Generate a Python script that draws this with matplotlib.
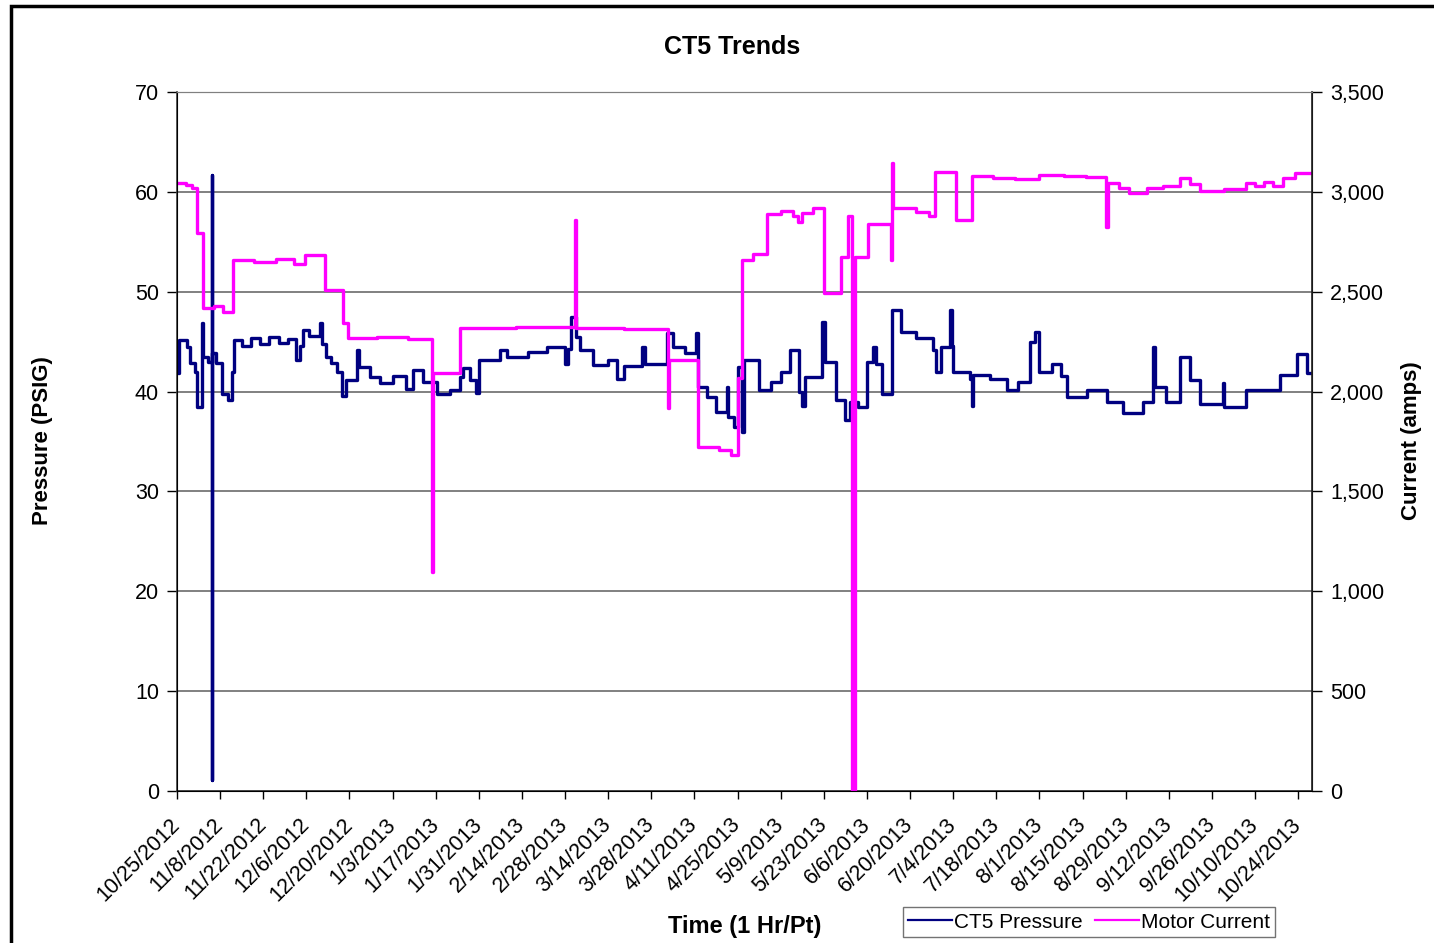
import numpy as np
import matplotlib
matplotlib.use("Agg")
import matplotlib.pyplot as plt
from matplotlib.patches import Rectangle
from matplotlib.ticker import FuncFormatter, MultipleLocator

plt.rcParams['font.family'] = ['Liberation Sans', 'DejaVu Sans']

# hourly logger trend, reduced to (day offset, value) step points from 10/25/2012
start = np.datetime64('2012-10-25T00:00')

press_day = [0, 0.6, 3.2, 4.2, 5.8, 6.5, 8.1, 8.4, 10, 11.3, 11.35, 11.4, 12.5, 14.6,
             16.5, 17.9, 18.5, 21, 24, 27, 30, 33, 36, 38.5, 40, 41, 43, 46.5, 47, 48.5,
             50, 52, 53.6, 55, 58.5, 59.2, 62.5, 66, 70, 74.5, 76.5, 80, 84.4, 88.5, 92,
             93, 95, 97, 98, 105, 107, 114, 120, 126, 127, 128, 129.5, 131, 135, 140,
             143, 145, 151, 152, 159, 161, 165, 168.5, 169, 172, 175, 178.5, 179, 181,
             182, 183.5, 184, 189, 193, 196, 199, 202, 203, 204, 209.5, 210.5, 214, 217,
             218.5, 221, 224, 226, 227, 229, 232, 235, 240, 245.5, 246.5, 248, 251,
             251.6, 252, 257.5, 258, 258.5, 264, 269.5, 273, 277, 278.5, 280, 284, 287,
             289, 295.5, 302, 307, 313.6, 317, 317.5, 321, 325.5, 329, 332, 339.5, 340,
             347, 358, 363.6, 367, 368.5]
press_psig = [41.9, 45.2, 44.5, 42.9, 42.0, 38.5, 46.9, 43.5, 43.0, 61.7, 1.1, 43.9, 42.9, 39.8,
              39.2, 42.0, 45.2, 44.6, 45.4, 44.8, 45.5, 44.9, 45.3, 43.2, 44.6, 46.2, 45.6, 46.9, 44.8, 43.5,
              42.9, 42.0, 39.6, 41.2, 44.2, 42.5, 41.5, 40.9, 41.6, 40.3, 42.2, 41.0, 39.8, 40.2, 41.5,
              42.4, 41.2, 39.9, 43.2, 44.2, 43.5, 44.0, 44.5, 42.8, 44.3, 47.5, 45.5, 44.2, 42.7, 43.2,
              41.3, 42.6, 44.5, 42.8, 45.9, 44.5, 43.9, 45.9, 40.5, 39.5, 38.0, 40.5, 37.5, 36.5,
              42.5, 36.0, 43.2, 40.2, 41.0, 42.0, 44.2, 40.0, 38.6, 41.5, 47.0, 43.0, 39.2, 37.2,
              39.0, 38.5, 43.0, 44.5, 42.8, 39.8, 48.2, 46.0, 45.4, 44.2, 42.0, 44.5, 48.2,
              44.6, 42.0, 41.3, 38.6, 41.7, 41.3, 40.2, 41.0, 45.0, 46.0, 42.0, 42.8, 41.6,
              39.5, 40.2, 39.0, 37.9, 39.0, 44.5, 40.5, 39.0, 43.5, 41.2, 38.8, 40.9, 38.5,
              40.2, 41.7, 43.8, 41.9, 41.9]

amps_day = [0, 3, 5, 6.5, 8.4, 12, 15, 18.3, 25, 32, 38, 41.5, 48, 54, 55.5, 65, 75, 82.8,
            83.1, 92, 110, 129.3, 129.6, 145, 159.5, 159.8, 169, 176, 180, 182, 183.5, 187,
            191.5, 196, 200, 201.5, 203, 206.5, 210, 215.5, 218, 219.0, 220.2, 224.5, 231.8,
            232.2, 232.6, 240, 244, 246, 253, 258, 265, 272, 280, 288, 295, 301.7, 302.2,
            306, 309, 315, 320, 325.5, 329, 332, 340, 347, 350, 353, 356, 359, 363, 368.5]
amps = [3045, 3035, 3020, 2794, 2418, 2430, 2400, 2659, 2650, 2665, 2640, 2684, 2509, 2343,
        2268, 2275, 2262, 1097, 2093, 2318, 2325, 2859, 2318, 2315, 1918, 2158, 1722, 1705,
        1683, 2070, 2659, 2690, 2890, 2905, 2880, 2850, 2895, 2920, 2494, 2674, 2880, 0,
        2674, 2840, 2659, 3145, 2920, 2900, 2880, 3100, 2860, 3080, 3070, 3065, 3085, 3080,
        3075, 2824, 3045, 3020, 2995, 3020, 3030, 3070, 3040, 3005, 3015, 3045, 3030, 3050,
        3030, 3070, 3095, 3095]

tick_dates = [start + np.timedelta64(14 * k, 'D') for k in range(27)]
tick_labels = []
for t in tick_dates:
    y, m, d = str(t)[:10].split('-')
    tick_labels.append(f"{int(m)}/{int(d)}/{y}")


def to_time(days):
    return start + (np.array(days) * 24 * 60).astype('timedelta64[m]')


fig = plt.figure(figsize=(14.34, 9.43), dpi=100)
ax = fig.add_axes([177 / 1434, 1 - 791 / 943, (1312 - 177) / 1434, (791 - 92) / 943])
ax2 = ax.twinx()

ax.plot(to_time(press_day), press_psig, drawstyle='steps-post', color='#000080', lw=2.4,
        label='CT5 Pressure')
ax2.plot(to_time(amps_day), amps, drawstyle='steps-post', color='#ff00ff', lw=2.4,
         label='Motor Current')

ax.set_xlim(start, to_time([368.5])[0])
ax.set_ylim(0, 70)
ax2.set_ylim(0, 3500)
ax.yaxis.set_major_locator(MultipleLocator(10))
ax2.yaxis.set_major_locator(MultipleLocator(500))
ax2.yaxis.set_major_formatter(FuncFormatter(lambda v, p: f"{v:,.0f}"))

ax.set_xticks(tick_dates)
ax.set_xticklabels(tick_labels, rotation=45, ha='right', va='center',
                   rotation_mode='anchor', fontsize=15.5)
ax.tick_params(axis='x', direction='out', length=6, width=1, pad=16)
ax.tick_params(axis='y', direction='out', length=7, width=1, labelsize=15.5, pad=6)
ax2.tick_params(axis='y', direction='out', length=7, width=1, labelsize=15.5, pad=6)

ax.grid(axis='y', color='#808080', lw=1.4)
ax.set_axisbelow(True)
for sp in ['left', 'bottom']:
    ax.spines[sp].set_color('#404040')
    ax.spines[sp].set_linewidth(1.2)
ax.spines['top'].set_color('#808080')
ax2.spines['top'].set_color('#808080')
ax2.spines['right'].set_color('#202020')
ax2.spines['right'].set_linewidth(1.2)

fig.text(732 / 1434, 1 - 47 / 943, 'CT5 Trends', ha='center', va='center',
         fontsize=18, fontweight='bold')
fig.text(43 / 1434, 1 - 441 / 943, 'Pressure (PSIG)', ha='center', va='center',
         rotation=90, fontsize=16, fontweight='bold')
fig.text(1411 / 1434, 1 - 441 / 943, 'Current (amps)', ha='center', va='center',
         rotation=90, fontsize=16, fontweight='bold')
fig.text(745 / 1434, 1 - 927 / 943, 'Time (1 Hr/Pt)', ha='center', va='center',
         fontsize=17, fontweight='bold')

h1, l1 = ax.get_legend_handles_labels()
h2, l2 = ax2.get_legend_handles_labels()
fig.legend(h1 + h2, l1 + l2, loc='center', bbox_to_anchor=(1089 / 1434, 1 - 922 / 943),
           ncol=2, fontsize=15, frameon=True, fancybox=False, edgecolor='#505050',
           handlelength=2.1, handletextpad=0.1, columnspacing=0.6, borderpad=0.25,
           borderaxespad=0)
for line in fig.legends[0].get_lines():
    line.set_linewidth(1.6)

# outer chart border (only top and left edges fall inside the image)
fig.patches.append(Rectangle((11 / 1434, -0.2), 2, 1 - 6 / 943 + 0.2,
                             transform=fig.transFigure, fill=False, lw=2.5,
                             edgecolor='black'))

fig.savefig('out.png', dpi=100)
